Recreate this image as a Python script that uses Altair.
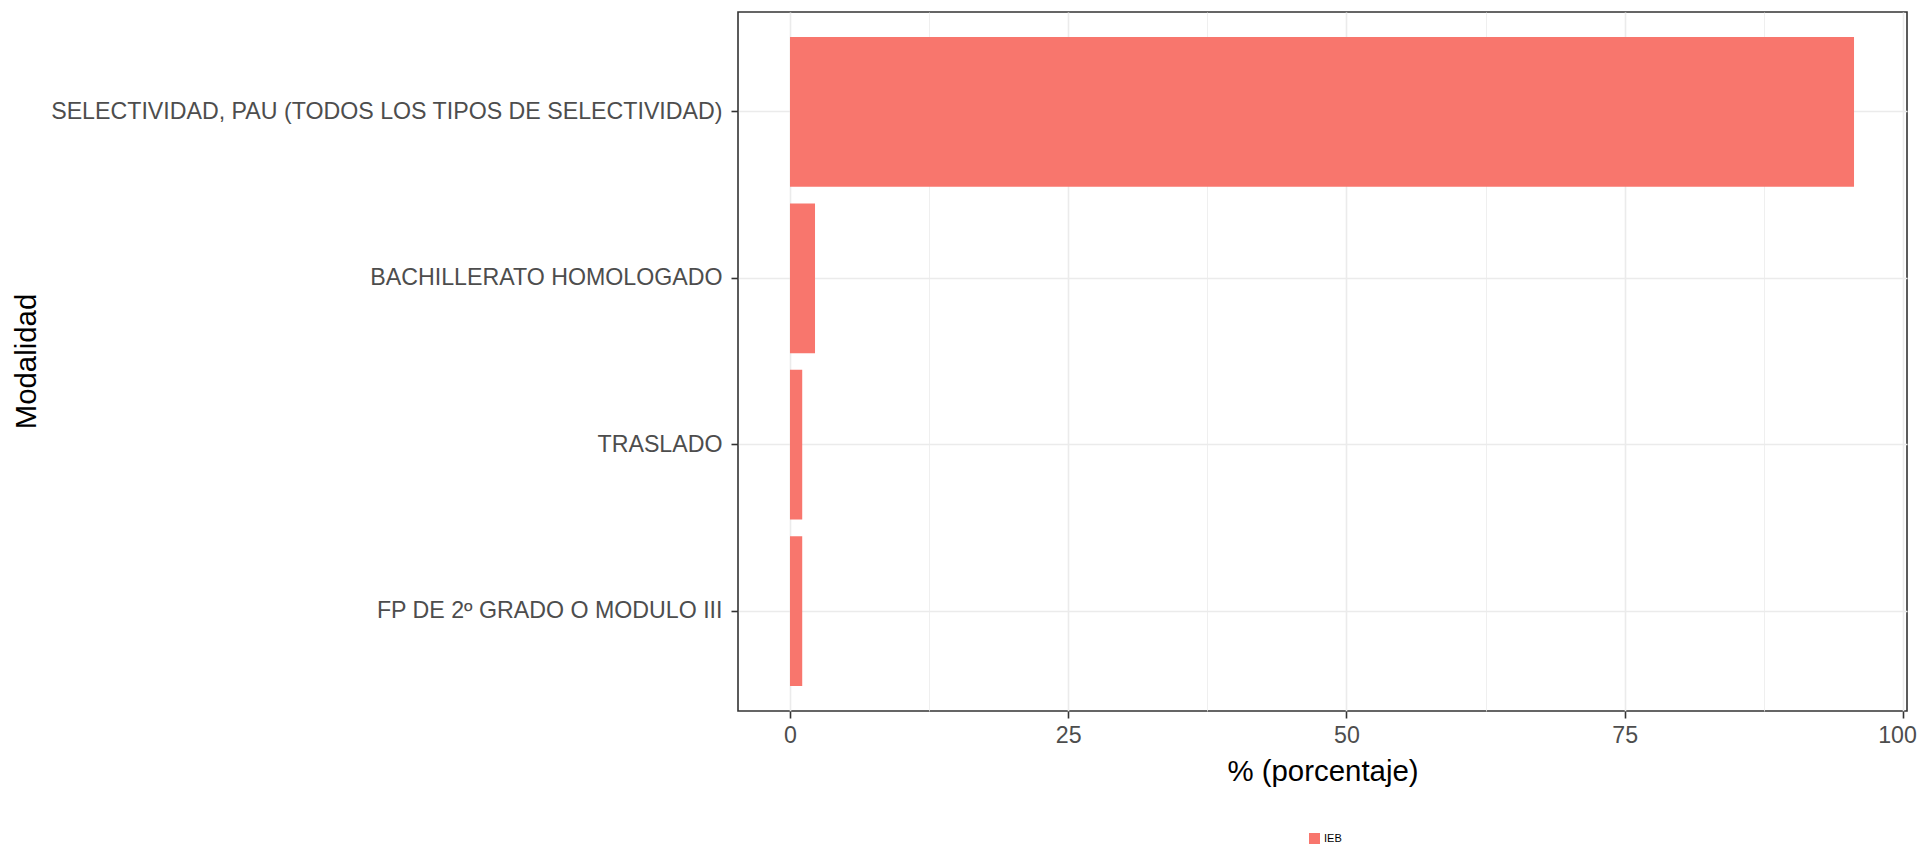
import altair as alt
import pandas as pd

categorias = [
    "SELECTIVIDAD, PAU (TODOS LOS TIPOS DE SELECTIVIDAD)",
    "BACHILLERATO HOMOLOGADO",
    "TRASLADO",
    "FP DE 2º GRADO O MODULO III",
]
porcentajes = [95.6, 2.25, 1.1, 1.1]
grupos = ["IEB", "IEB", "IEB", "IEB"]
x_ticks = [0, 12.5, 25, 37.5, 50, 62.5, 75, 87.5, 100]

df = pd.DataFrame({"Modalidad": categorias, "pct": porcentajes, "grupo": grupos})

FONT = "Liberation Sans"

chart = alt.Chart(df).mark_bar(color="#F8766D").encode(
    x=alt.X(
        "pct:Q",
        title="% (porcentaje)",
        scale=alt.Scale(domain=[-4.67, 100.36], nice=False, zero=False),
        axis=alt.Axis(
            values=x_ticks,
            labelExpr="datum.value % 25 === 0 ? datum.label : ''",
            grid=True,
            gridColor="#EBEBEB",
            gridWidth={"condition": {"test": "datum.value % 25 === 0", "value": 1.6}, "value": 0.8},
            tickOpacity={"condition": {"test": "datum.value % 25 === 0", "value": 1}, "value": 0},
            labelOffset={"condition": {"test": "datum.value === 100", "value": -6}, "value": 0},
            tickColor="#333333",
            tickSize=7,
            tickWidth=1.6,
            domain=False,
            labelFontSize=23.2,
            labelColor="#4D4D4D",
            labelFont=FONT,
            labelPadding=6,
            titleFontSize=29.4,
            titleFont=FONT,
            titleFontWeight="normal",
            titleColor="#000000",
            titlePadding=11,
        ),
    ),
    y=alt.Y(
        "Modalidad:N",
        sort=categorias,
        title="Modalidad",
        scale=alt.Scale(paddingInner=0.1, paddingOuter=0.15),
        axis=alt.Axis(
            grid=True,
            gridColor="#EBEBEB",
            gridWidth=1.6,
            tickColor="#333333",
            tickSize=7,
            tickWidth=1.6,
            domain=False,
            labelFontSize=23.2,
            labelColor="#4D4D4D",
            labelFont=FONT,
            labelPadding=9,
            labelLimit=1000,
            titleFontSize=29.4,
            titleFont=FONT,
            titleFontWeight="normal",
            titleColor="#000000",
            titleX=-712,
            titleY=349,
            titleAngle=-90,
            titleAlign="center",
            titleBaseline="middle",
        ),
    ),
    color=alt.Color(
        "grupo:N",
        scale=alt.Scale(range=["#F8766D"]),
        legend=alt.Legend(
            title=None,
            orient="none",
            legendX=571,
            legendY=821,
            symbolType="square",
            symbolSize=121,
            symbolStrokeWidth=0,
            labelFontSize=11,
            labelFont=FONT,
            labelColor="#000000",
            padding=0,
        ),
    ),
).properties(
    width=1169,
    height=699,
    autosize="none",
    background="white",
    padding={"left": 730, "top": 4, "right": 10, "bottom": 134},
).configure_view(
    stroke="#333333",
    strokeWidth=1.6,
)

chart.save("out.html", embed_options={"renderer": "svg", "actions": False})
